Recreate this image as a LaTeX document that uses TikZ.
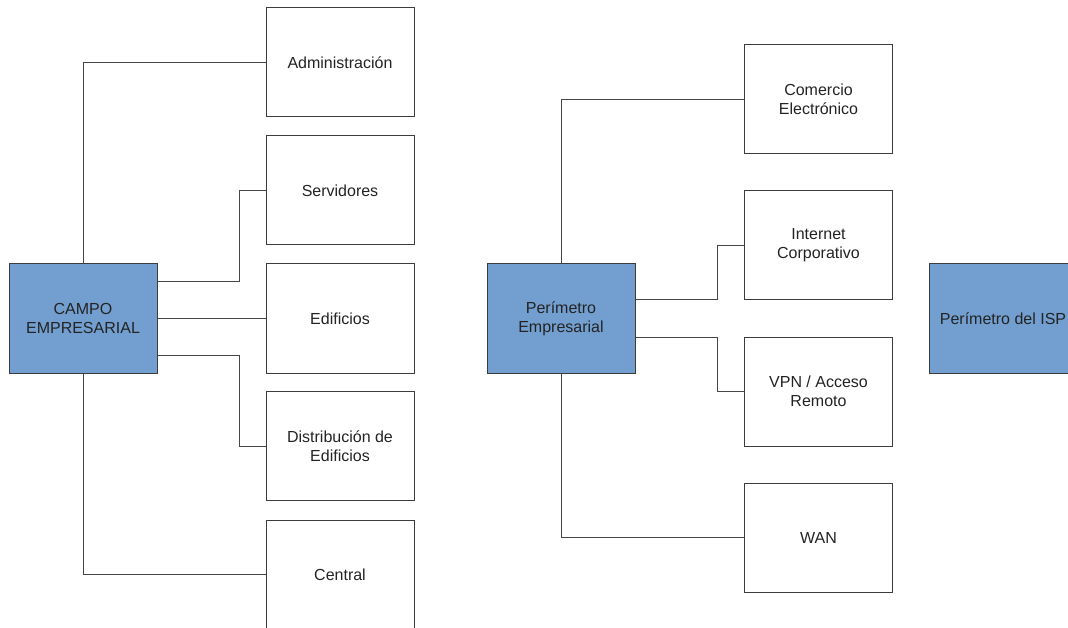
\documentclass[tikz,border=0pt]{standalone}
\usepackage{fontspec}
\setmainfont{Liberation Sans}
\definecolor{boxblue}{RGB}{114,159,207}
\definecolor{edge}{RGB}{60,60,60}
\definecolor{wire}{RGB}{70,70,70}
\definecolor{ink}{RGB}{35,35,35}
\begin{document}
\begin{tikzpicture}[x=1pt,y=-1pt,
  unit/.style={draw=edge, line width=1pt, minimum width=148pt, minimum height=109pt,
    inner sep=0pt, align=center, text=ink, font=\fontsize{16}{19}\selectfont},
  zone/.style={unit, fill=boxblue},
  link/.style={draw=wire, line width=0.9pt}]
\clip (0,0) rectangle (1068,628);
\useasboundingbox (0,0) rectangle (1068,628);

% campus block
\node[zone] (camp) at (83,318.5) {CAMPO\\EMPRESARIAL};
\node[unit] (adm)  at (340,62.5)  {Administración};
\node[unit] (srv)  at (340,190.5) {Servidores};
\node[unit] (edf)  at (340,318.5) {Edificios};
\node[unit] (dist) at (340,446)   {Distribución de\\Edificios};
\node[unit] (cen)  at (340,574.5) {Central};

\draw[link] (camp.north) |- (adm.west);
\draw[link] ([yshift=-18pt]camp.north east) -- ++(82,0) |- (srv.west);
\draw[link] (camp.east) -- (edf.west);
\draw[link] ([yshift=18pt]camp.south east) -- ++(82,0) |- (dist.west);
\draw[link] (camp.south) |- (cen.west);

% enterprise edge block
\node[zone] (pe)   at (561,318.5) {Perímetro\\Empresarial};
\node[unit] (com)  at (818.5,99)    {Comercio\\Electrónico};
\node[unit] (inet) at (818.5,245)   {Internet\\Corporativo};
\node[unit] (vpn)  at (818.5,391.5) {VPN / Acceso\\Remoto};
\node[unit] (wan)  at (818.5,537.5) {WAN};

\draw[link] (pe.north) |- (com.west);
\draw[link] ([yshift=-36pt]pe.north east) -- ++(82,0) |- (inet.west);
\draw[link] ([yshift=36pt]pe.south east) -- ++(82,0) |- (vpn.west);
\draw[link] (pe.south) |- (wan.west);

% service provider edge
\node[zone] (isp) at (1003,318.5) {Perímetro del ISP};
\end{tikzpicture}
\end{document}
